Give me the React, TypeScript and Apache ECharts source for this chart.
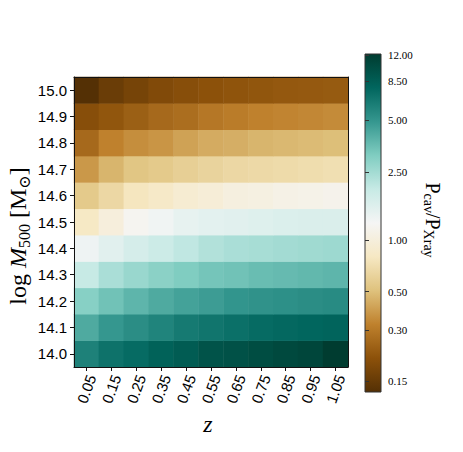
import React, { useEffect, useRef } from "react";
import * as echarts from "echarts";

// Categories
const zLabels = ["0.05", "0.15", "0.25", "0.35", "0.45", "0.55", "0.65", "0.75", "0.85", "0.95", "1.05"];
const massLabels = ["14.0", "14.1", "14.2", "14.3", "14.4", "14.5", "14.6", "14.7", "14.8", "14.9", "15.0"];

// P_cav / P_Xray per mass row (columns follow zLabels)
const row140 = [6.03, 6.91, 7.4, 8.11, 8.67, 9.5, 9.71, 10.2, 10.6, 10.9, 12.2];
const row141 = [4.2, 4.92, 5.38, 5.89, 6.45, 6.76, 7.07, 7.4, 7.57, 7.74, 7.92];
const row142 = [2.98, 3.42, 3.83, 4.2, 4.49, 4.7, 5.03, 5.14, 5.26, 5.38, 5.51];
const row143 = [1.98, 2.38, 2.66, 2.92, 3.12, 3.34, 3.42, 3.58, 3.66, 3.74, 3.83];
const row144 = [1.35, 1.54, 1.73, 1.89, 2.07, 2.27, 2.38, 2.43, 2.49, 2.54, 2.6];
const row145 = [0.818, 1.0, 1.2, 1.32, 1.44, 1.51, 1.54, 1.58, 1.62, 1.65, 1.65];
const row146 = [0.556, 0.652, 0.781, 0.837, 0.917, 0.959, 1.03, 1.05, 1.1, 1.12, 1.15];
const row147 = [0.378, 0.463, 0.531, 0.556, 0.595, 0.623, 0.652, 0.667, 0.682, 0.698, 0.714];
const row148 = [0.257, 0.323, 0.353, 0.37, 0.405, 0.433, 0.443, 0.463, 0.474, 0.485, 0.496];
const row149 = [0.196, 0.214, 0.235, 0.257, 0.269, 0.294, 0.308, 0.323, 0.33, 0.337, 0.345];
const row150 = [0.13, 0.156, 0.171, 0.187, 0.196, 0.205, 0.21, 0.214, 0.219, 0.221, 0.224];
const ratioRows = [row140, row141, row142, row143, row144, row145, row146, row147, row148, row149, row150];

// Colour bar
const cbTicks = [0.15, 0.3, 0.5, 1, 2.5, 5, 8.5, 12];
const vmin = 0.13;
const vmax = 12.2;
const brbg = ["#543005", "#8c510a", "#bf812d", "#dfc27d", "#f6e8c3", "#f5f5f5", "#c7eae5", "#80cdc1", "#35978f", "#01665e", "#003c30"];

const SERIF = "'Liberation Serif', 'DejaVu Serif', serif";
const SANS = "'Liberation Sans', Arial, sans-serif";

export default function App() {
  const ref = useRef<HTMLDivElement>(null);

  useEffect(() => {
    if (!ref.current) return;
    const chart = echarts.init(ref.current, null, { renderer: "svg" });

    const data: number[][] = [];
    ratioRows.forEach((row, yi) => {
      row.forEach((v, xi) => {
        data.push([xi, yi, Math.log10(v)]);
      });
    });

    const lmin = Math.log10(vmin);
    const lmax = Math.log10(vmax);
    const tickLogs = cbTicks.map((t) => Math.log10(t));

    const gradient = {
      type: "linear",
      x: 0,
      y: 1,
      x2: 0,
      y2: 0,
      colorStops: brbg.map((c, i) => ({ offset: i / (brbg.length - 1), color: c })),
    };

    const frameLine = { show: true, lineStyle: { color: "#111", width: 1 } };

    const option: any = {
      animation: false,
      backgroundColor: "#fff",
      grid: [
        { left: 74, top: 77, width: 274, height: 290, containLabel: false, outerBoundsMode: "none" },
        {
          left: 365,
          top: 54,
          width: 16,
          height: 338,
          show: true,
          backgroundColor: gradient,
          borderColor: "#333",
          borderWidth: 1,
          containLabel: false,
          outerBoundsMode: "none",
        },
      ],
      xAxis: [
        {
          type: "category",
          gridIndex: 0,
          data: zLabels,
          position: "bottom",
          z: 5,
          axisLine: frameLine,
          axisTick: { show: true, alignWithLabel: true, length: 4, lineStyle: { color: "#111" } },
          axisLabel: {
            rotate: 70,
            align: "center",
            verticalAlign: "middle",
            margin: 22,
            fontSize: 15,
            fontFamily: SANS,
            color: "#000",
            interval: 0,
          },
          splitLine: { show: false },
        },
        {
          type: "category",
          gridIndex: 0,
          data: zLabels,
          position: "top",
          z: 5,
          axisLine: frameLine,
          axisTick: { show: false },
          axisLabel: { show: false },
          splitLine: { show: false },
        },
        { type: "value", gridIndex: 1, show: false, min: 0, max: 1 },
      ],
      yAxis: [
        {
          type: "category",
          gridIndex: 0,
          data: massLabels,
          position: "left",
          z: 5,
          axisLine: frameLine,
          axisTick: { show: true, alignWithLabel: true, length: 4, lineStyle: { color: "#111" } },
          axisLabel: { margin: 7, fontSize: 15, fontFamily: SANS, color: "#000", interval: 0 },
          splitLine: { show: false },
        },
        {
          type: "category",
          gridIndex: 0,
          data: massLabels,
          position: "right",
          z: 5,
          axisLine: frameLine,
          axisTick: { show: false },
          axisLabel: { show: false },
          splitLine: { show: false },
        },
        {
          type: "value",
          gridIndex: 1,
          position: "right",
          min: lmin,
          max: lmax,
          axisLine: { show: false },
          splitLine: { show: false },
          axisTick: { show: true, customValues: tickLogs, length: 4, lineStyle: { color: "#333" } },
          axisLabel: {
            customValues: tickLogs,
            formatter: (v: number) => Math.pow(10, v).toFixed(2),
            margin: 7,
            fontSize: 11,
            fontFamily: SERIF,
            color: "#000",
          },
        },
      ],
      visualMap: {
        type: "continuous",
        show: false,
        min: lmin,
        max: lmax,
        dimension: 2,
        seriesIndex: 0,
        inRange: { color: brbg },
      },
      series: [
        {
          type: "heatmap",
          xAxisIndex: 0,
          yAxisIndex: 0,
          data,
          itemStyle: { borderWidth: 0 },
          emphasis: { disabled: true },
        },
      ],
      graphic: [
        {
          type: "text",
          x: 18,
          y: 236,
          rotation: Math.PI / 2,
          style: {
            text: "{r|log }{i|M}{s|500}{r| [M}{s|⊙}{r|]}",
            align: "center",
            verticalAlign: "middle",
            textAlign: "center",
            textVerticalAlign: "middle",
            fill: "#000",
            rich: {
              r: { fontSize: 24, fontFamily: SERIF, lineHeight: 28, fill: "#000", color: "#000" },
              i: { fontSize: 24, fontFamily: SERIF, fontStyle: "italic", lineHeight: 28, fill: "#000", color: "#000" },
              s: { fontSize: 16, fontFamily: SERIF, lineHeight: 8, verticalAlign: "bottom", fill: "#000", color: "#000" },
            },
          },
        },
        {
          type: "text",
          x: 433,
          y: 220,
          rotation: -Math.PI / 2,
          style: {
            text: "{r|P}{s|cav}{r|/P}{s|Xray}",
            align: "center",
            verticalAlign: "middle",
            textAlign: "center",
            textVerticalAlign: "middle",
            fill: "#000",
            rich: {
              r: { fontSize: 20, fontFamily: SERIF, lineHeight: 24, fill: "#000", color: "#000" },
              s: { fontSize: 14, fontFamily: SERIF, lineHeight: 8, verticalAlign: "bottom", fill: "#000", color: "#000" },
            },
          },
        },
        {
          type: "text",
          x: 208,
          y: 424,
          style: {
            text: "z",
            font: "italic 24px " + SERIF,
            fontSize: 24,
            fontStyle: "italic",
            fontFamily: SERIF,
            align: "center",
            verticalAlign: "middle",
            textAlign: "center",
            textVerticalAlign: "middle",
            fill: "#000",
          },
        },
      ],
    };

    chart.setOption(option);
    return () => chart.dispose();
  }, []);

  return <div ref={ref} style={{ position: "absolute", left: 0, top: 0, width: 463, height: 452 }} />;
}
